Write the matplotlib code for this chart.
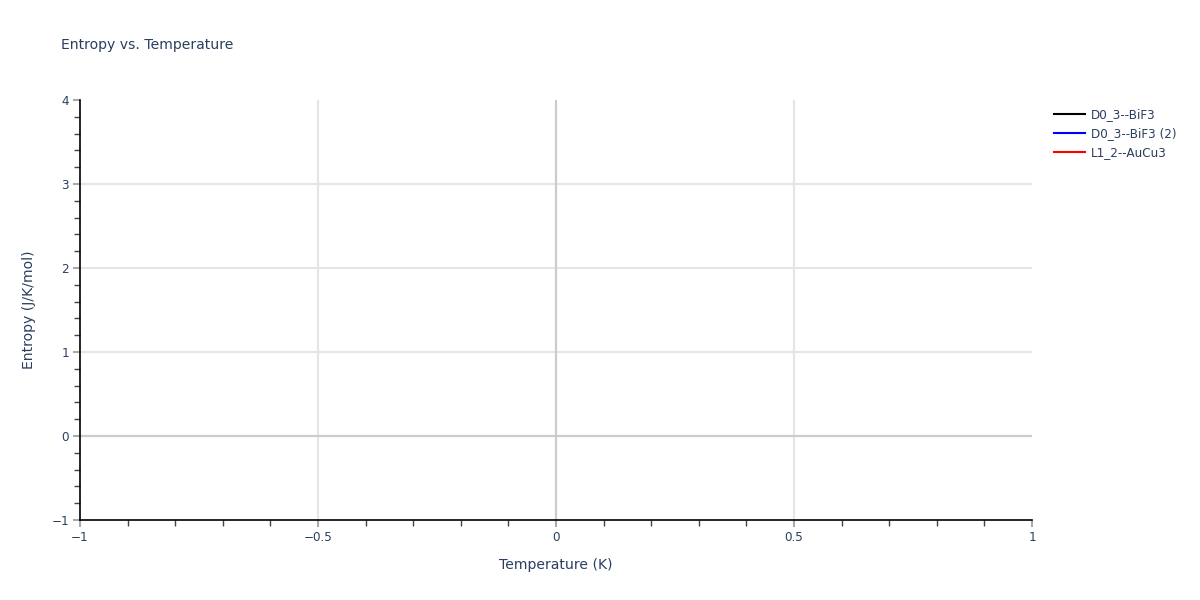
import matplotlib
matplotlib.use('Agg')
import matplotlib.pyplot as plt
from matplotlib.ticker import MultipleLocator

plt.rcParams['font.family'] = ['DejaVu Sans']

# series names and (empty) data as in the reference
series_names = ['D0_3--BiF3', 'D0_3--BiF3 (2)', 'L1_2--AuCu3']
series_colors = ['black', 'blue', 'red']
temps = [[], [], []]
entropy = [[], [], []]

x_ticks = [-1, -0.5, 0, 0.5, 1]
y_ticks = [-1, 0, 1, 2, 3, 4]

txt = '#2a3f5f'
px = 0.72  # points per pixel at dpi 100

fig = plt.figure(figsize=(12, 6), dpi=100)
ax = fig.add_axes([80 / 1200, 80 / 600, 952 / 1200, 420 / 600])

for i in range(3):
    ax.plot(temps[i], entropy[i], color=series_colors[i], lw=1.5, label=series_names[i])

ax.set_xlim(-1, 1)
ax.set_ylim(-1, 4)
ax.set_xticks(x_ticks)
ax.set_xticklabels(['\u22121', '\u22120.5', '0', '0.5', '1'])
ax.set_yticks(y_ticks)
ax.set_yticklabels(['\u22121', '0', '1', '2', '3', '4'])
ax.xaxis.set_minor_locator(MultipleLocator(0.1))
ax.yaxis.set_minor_locator(MultipleLocator(0.2))

ax.grid(True, which='major', color='#e5e5e5', lw=1.5)
# no grid lines on the plot edges
for g, v in zip(ax.xaxis.get_gridlines(), x_ticks):
    if v in (-1, 1):
        g.set_visible(False)
for g, v in zip(ax.yaxis.get_gridlines(), y_ticks):
    if v in (-1, 4):
        g.set_visible(False)
ax.axhline(0, color='#cccccc', lw=1.5, zorder=3)
ax.axvline(0, color='#cccccc', lw=1.5, zorder=3)

for s in ['top', 'right']:
    ax.spines[s].set_visible(False)
for s in ['left', 'bottom']:
    ax.spines[s].set_color('black')
    ax.spines[s].set_linewidth(1.2)
    ax.spines[s].set_zorder(4)

ax.tick_params(which='major', direction='out', length=5, width=1.5, color='#aaaaaa',
               labelsize=12 * px, labelcolor=txt, pad=3)
ax.tick_params(which='minor', direction='out', length=4, width=1, color='#444444')

ax.set_xlabel('Temperature (K)', fontsize=14 * px, color=txt, labelpad=10)
ax.set_ylabel('Entropy (J/K/mol)', fontsize=14 * px, color=txt, labelpad=11)

fig.text(61 / 1200, 1 - 45 / 600, 'Entropy vs. Temperature', fontsize=14 * px,
         color=txt, va='center', ha='left')

leg = ax.legend(loc='upper left', bbox_to_anchor=(1054 / 1200, 1 - 108 / 600),
                bbox_transform=fig.transFigure, frameon=False,
                fontsize=12 * px, handlelength=2.6, handletextpad=0.45,
                labelspacing=0.5, borderaxespad=0, borderpad=0)
for t in leg.get_texts():
    t.set_color(txt)

fig.savefig('out.png', dpi=100)
